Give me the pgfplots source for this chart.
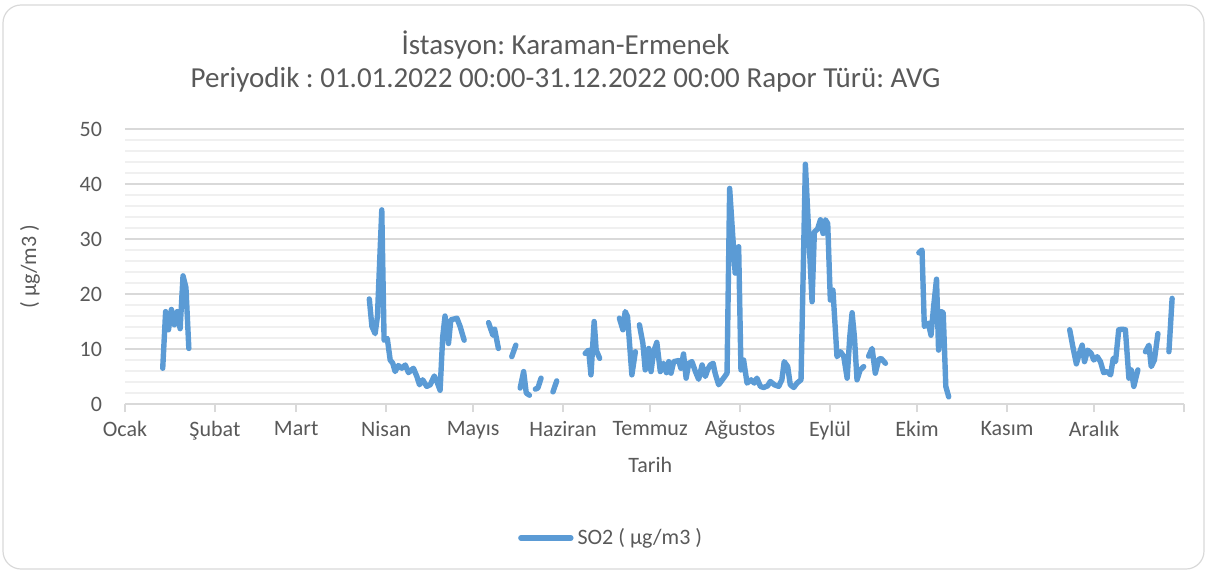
\documentclass[border=0pt]{standalone}
\usepackage{fontspec}
\setmainfont{Carlito}
\frenchspacing
\usepackage{pgfplots}
\pgfplotsset{compat=1.18}
\definecolor{txt}{HTML}{595959}
\definecolor{sline}{HTML}{5B9BD5}
\definecolor{gmaj}{HTML}{D9D9D9}
\definecolor{gmin}{HTML}{F0F0F0}
\begin{document}
\frenchspacing
\begin{tikzpicture}
\useasboundingbox (-62.5pt,-85pt) rectangle (541.5pt,202pt);
\draw[gmaj, line width=0.6pt, rounded corners=9pt] (-61pt,-82.5pt) rectangle (539.5pt,199.5pt);
\begin{axis}[
  scale only axis,
  width=529.5pt, height=137.5pt,
  xmin=0, xmax=365, ymin=0, ymax=50,
  unbounded coords=jump,
  axis x line*=bottom, axis y line*=left,
  x axis line style={draw=gmaj, line width=0.8pt},
  y axis line style={draw=none},
  xtick={0,31,59,90,120,151,181,212,243,273,304,334,365},
  xticklabels={Ocak,Şubat,Mart,Nisan,Mayıs,Haziran,Temmuz,Ağustos,Eylül,Ekim,Kasım,Aralık,{}},
  ytick={0,10,20,30,40,50},
  minor y tick num=4,
  tick align=outside,
  major tick length=4pt,
  xtick style={draw=gmaj, line width=0.8pt},
  ytick style={draw=none},
  minor y tick style={draw=none},
  ymajorgrids, yminorgrids,
  major grid style={draw=gmaj, line width=0.6pt},
  minor grid style={draw=gmin, line width=0.6pt},
  tick label style={font=\fontsize{11}{13}\selectfont, text=txt},
  /pgf/number format/assume math mode=true,
  yticklabel style={xshift=-4pt},
  xticklabel style={yshift=-1pt},
  xlabel={Tarih},
  xlabel style={font=\fontsize{11}{13}\selectfont, text=txt, at={(axis description cs:0.496,-0.222)}, anchor=center},
  ylabel={( µg/m3 )},
  ylabel style={font=\fontsize{11}{13}\selectfont, text=txt, at={(axis description cs:-0.0897,0.5)}, anchor=center},
  title={İstasyon: Karaman-Ermenek\\Periyodik : 01.01.2022 00:00-31.12.2022 00:00 Rapor Türü: AVG},
  title style={font=\fontsize{14.5}{16.5}\selectfont, text=txt, align=center, at={(axis description cs:0.416,1.2015)}, anchor=center},
  legend style={at={(axis description cs:0.46,-0.487)}, anchor=center, draw=none, fill=none, font=\fontsize{11}{13}\selectfont, text=txt},
  legend image code/.code={\draw[#1, line width=2.7pt] (0pt,0pt) -- (25pt,0pt);},
]
\addplot[sline, line width=2.7pt, line join=round, line cap=round] table[x=d, y=v] {
d v
13 6.5
14 16.8
15 13.5
16 17.2
17 14.4
18 16.8
19 13.7
20 23.3
21 21.2
22 10.1
23 nan
84.2 19.1
85.1 14.1
86.2 12.8
87.0 15.9
88.5 35.3
89.3 11.6
90.4 11.9
91.4 8.0
92.3 7.4
93.1 5.9
94.2 7.0
95.4 6.5
96.6 7.1
97.7 5.7
99.4 6.5
100.6 5.0
101.5 3.5
102.6 4.4
104.0 3.2
105.2 3.5
106.6 5.1
107.5 4.1
108.6 2.5
109.5 12.2
110.3 16.0
111.5 11.0
112.3 15.3
114.4 15.6
115.5 14.1
116.9 11.6
118 nan
125.3 14.8
126.8 12.5
127.4 13.6
128.7 10.1
130 nan
133.3 8.6
134.7 10.7
135 nan
136.2 2.9
137.4 5.9
138.3 2.0
139.4 1.6
140 nan
141.4 2.7
142.3 2.9
143.4 4.7
145 nan
147.5 2.2
148.8 4.2
150 nan
158.6 9.2
159.8 9.8
160.6 5.3
161.7 15.0
162.4 9.8
163.6 8.3
165 nan
170.4 15.6
171.6 13.5
172.4 16.8
173.2 15.9
174.7 5.3
175.9 9.5
176.5 nan
177.3 14.4
178.5 11.0
179.3 6.2
180.5 10.1
181.3 5.9
182.2 9.5
183.3 11.2
184.5 5.9
185.6 7.4
186.6 5.7
187.4 7.7
188.2 5.6
189.1 7.7
190.8 7.9
191.6 6.5
192.5 9.1
193.4 4.7
194.3 7.4
195.4 7.7
196.6 5.9
197.7 4.5
198.9 7.1
200.0 5.0
200.8 6.2
201.7 7.1
202.7 7.4
203.4 5.6
204.6 3.5
206.3 4.7
207.5 5.6
208.4 39.2
210.3 23.8
211.5 28.6
212.3 6.2
213.2 8.0
214.4 3.8
215.8 4.4
216.9 3.8
217.8 4.7
219.0 3.2
220.1 3.0
221.5 3.3
222.4 4.1
223.8 3.5
225.3 3.2
226.4 4.4
227.2 7.7
228.4 6.8
229.3 3.5
230.5 3.0
231.6 3.8
233.0 4.4
234.5 43.6
236.8 18.6
237.6 31.3
238.7 31.8
239.7 33.5
240.6 31.0
241.4 33.5
242.2 32.8
243.1 18.9
244.0 20.7
245.4 8.6
246.6 9.5
247.7 8.7
248.9 4.7
249.8 12.2
250.6 16.6
251.4 12.2
252.3 4.4
253.4 6.2
254.6 6.8
255.5 nan
256.3 8.7
257.5 10.1
258.6 5.6
259.8 8.1
260.6 8.3
262.1 7.4
265 nan
273.6 27.5
274.7 28.0
275.5 14.1
276.9 14.7
277.8 12.5
278.7 17.7
279.7 22.7
280.4 9.8
281.3 16.8
282.0 16.6
282.9 3.2
283.9 1.3
290 nan
325.6 13.5
326.8 10.1
327.9 7.3
329.1 9.5
329.9 10.7
330.7 7.7
331.8 9.8
333.0 9.2
333.9 8.0
335.1 8.6
336.2 7.7
337.3 5.7
338.5 5.9
339.7 5.3
340.6 8.3
341.4 7.7
342.5 13.5
343.7 13.6
344.8 13.5
346.0 4.7
346.8 6.2
347.7 3.2
349.1 6.2
350 nan
351.7 9.5
352.9 10.7
353.7 6.8
354.8 8.0
356.0 12.8
358 nan
359.8 9.5
360.9 19.2
};
\addlegendentry{SO2 ( µg/m3 )}
\end{axis}
\end{tikzpicture}
\end{document}
